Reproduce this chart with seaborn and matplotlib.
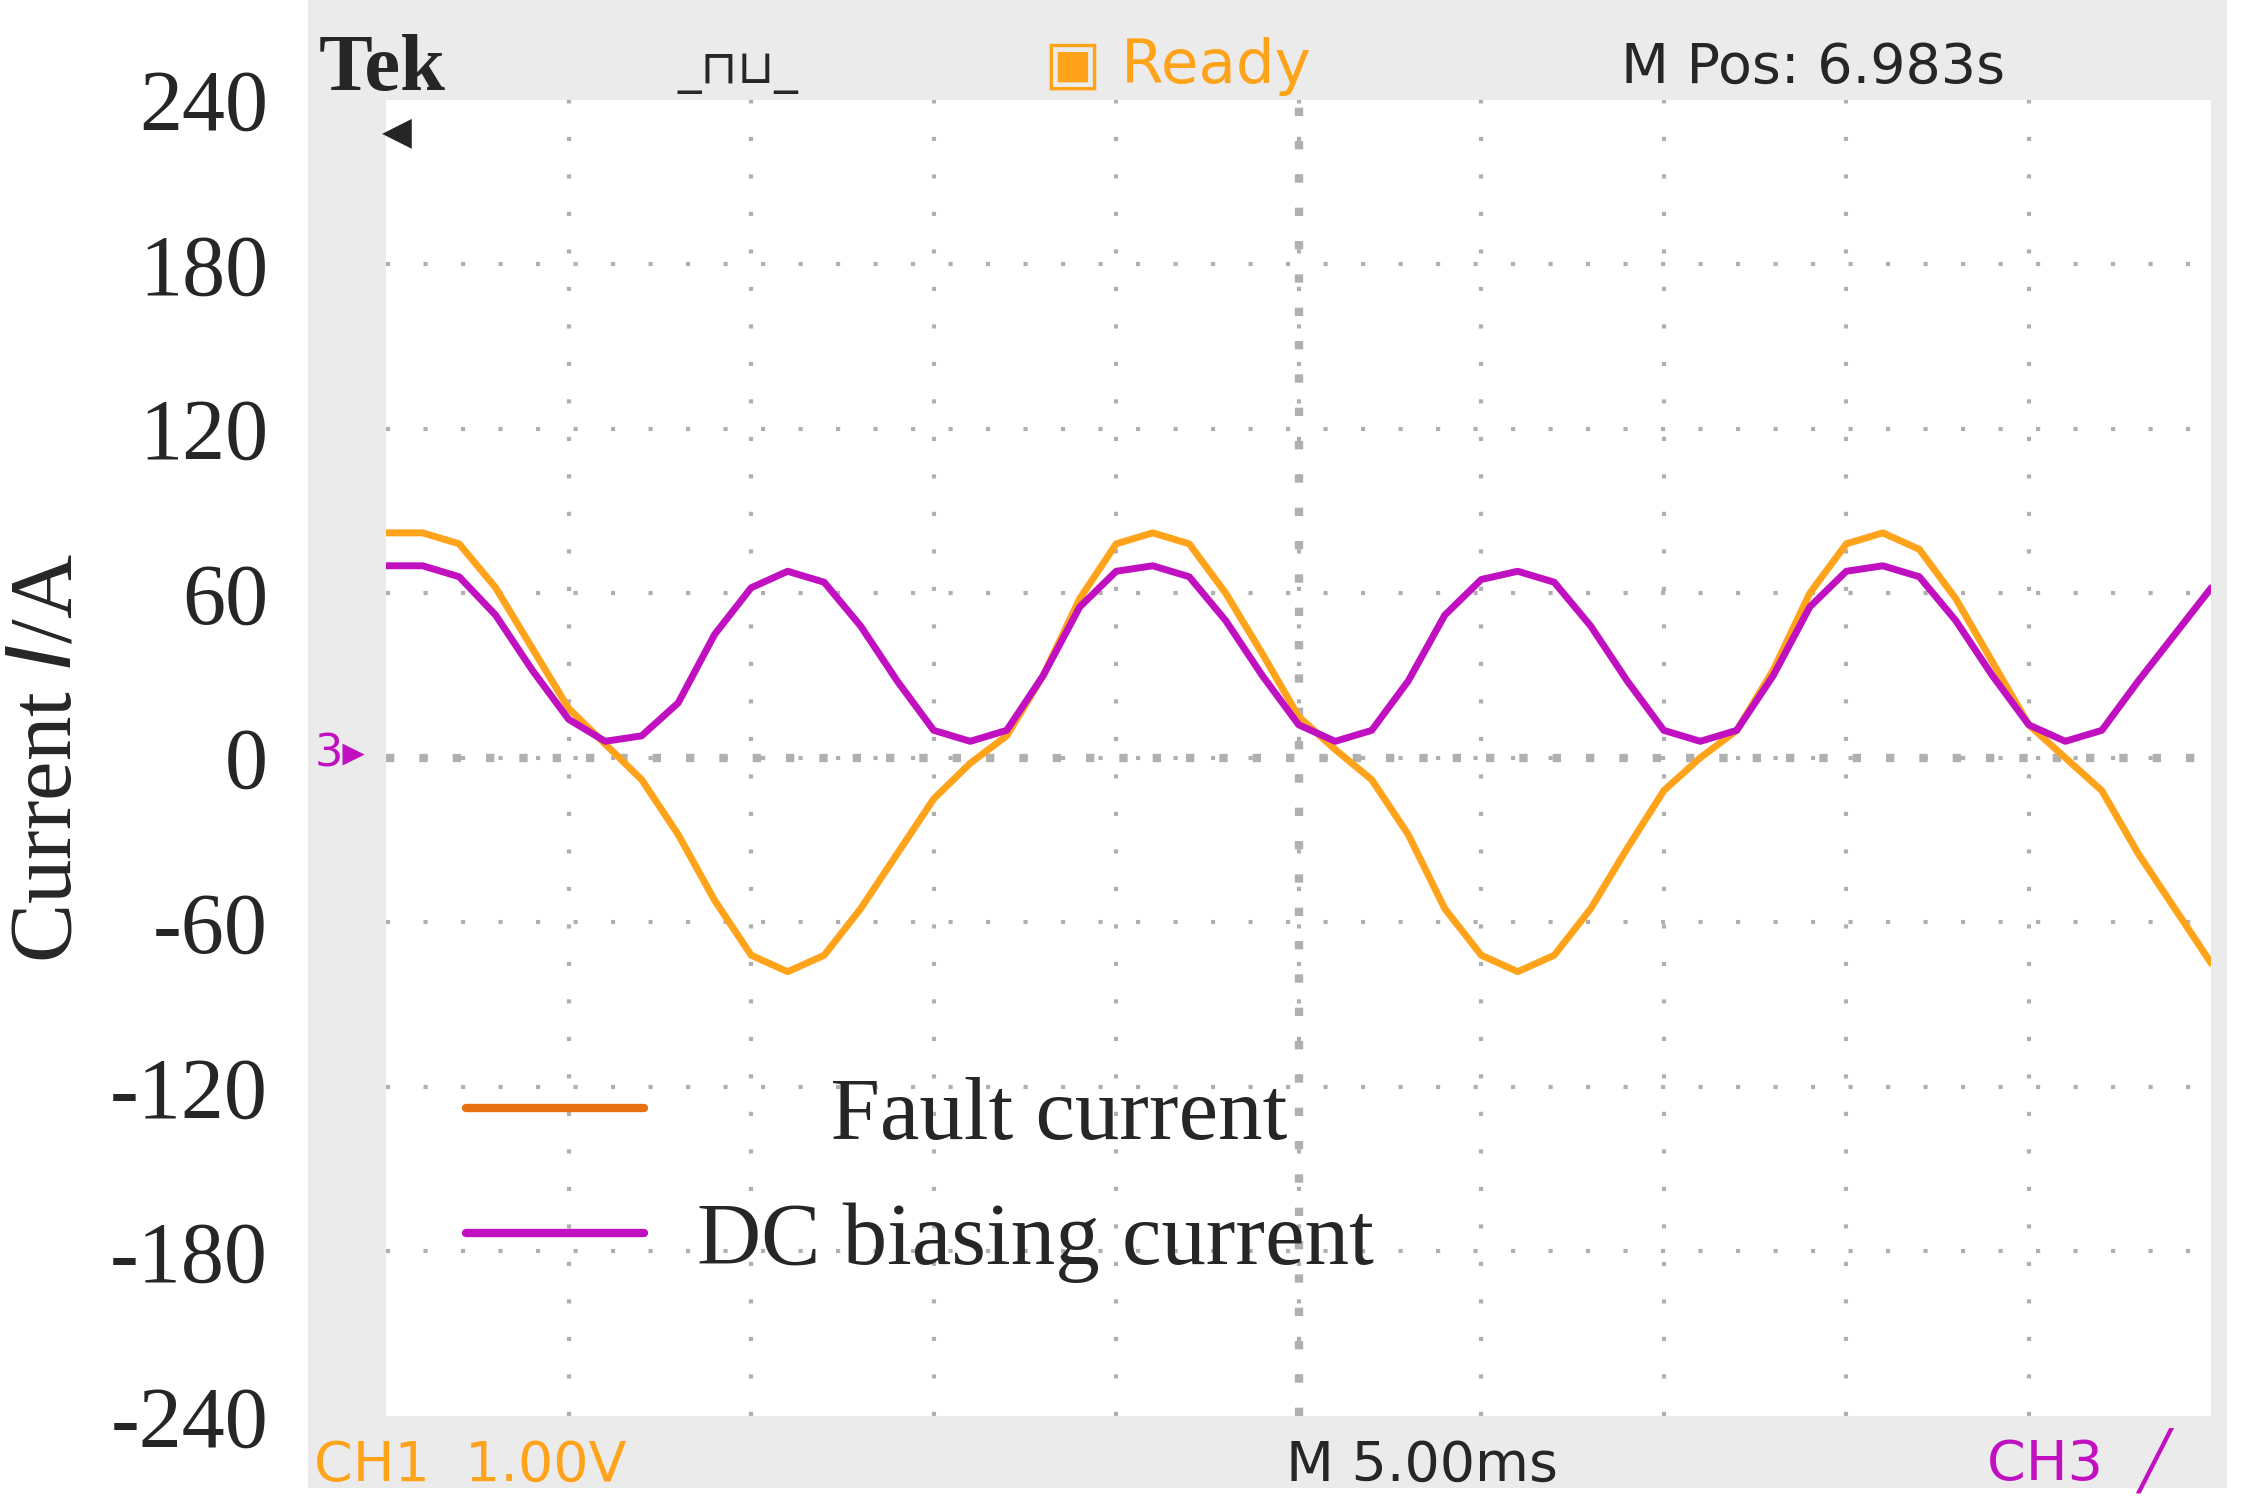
import numpy as np
import pandas as pd
import matplotlib.pyplot as plt
import seaborn as sns

sns.set_style("white")
plt.rcParams['font.family'] = ['Liberation Serif', 'DejaVu Serif']

# time in ms (10 divisions x 5 ms)
time_ms = list(range(0, 51))
fault_current = [82, 82, 78, 62, 40, 18, 5, -8, -28, -52, -72, -78, -72, -55, -35, -15, -2, 8, 30, 58,
                 78, 82, 78, 60, 38, 15, 3, -8, -28, -55, -72, -78, -72, -55, -33, -12, 0, 10, 32, 60,
                 78, 82, 76, 58, 35, 12, 0, -12, -35, -55, -75]
dc_bias_current = [70, 70, 66, 52, 32, 14, 6, 8, 20, 45, 62, 68, 64, 48, 28, 10, 6, 10, 30, 55,
                   68, 70, 66, 50, 30, 12, 6, 10, 28, 52, 65, 68, 64, 48, 28, 10, 6, 10, 30, 55,
                   68, 70, 66, 50, 30, 12, 6, 10, 28, 45, 62]
y_ticks = [-240, -180, -120, -60, 0, 60, 120, 180, 240]

df = pd.DataFrame({'t': time_ms, 'Fault current': fault_current, 'DC biasing current': dc_bias_current})

fig = plt.figure(figsize=(22.45, 15.08), dpi=100)
bg = fig.add_axes([0.137, 0.013, 0.855, 0.987], zorder=-5)
bg.set_facecolor('#ebebeb')
bg.set_xticks([]); bg.set_yticks([])
for s in bg.spines.values():
    s.set_visible(False)

ax = fig.add_axes([0.172, 0.061, 0.813, 0.873])
ax.set_facecolor('white')

sns.lineplot(data=df, x='t', y='Fault current', ax=ax, color='#ffa31a', lw=5, label='_f')
sns.lineplot(data=df, x='t', y='DC biasing current', ax=ax, color='#c010c0', lw=5, label='_d')

ax.set_xlim(0, 50)
ax.set_ylim(-240, 240)
ax.set_yticks(y_ticks)
ax.set_yticklabels([str(v) for v in y_ticks], fontsize=62)
ax.set_xticks([])
ax.tick_params(axis='y', length=0, pad=85)
for s in ax.spines.values():
    s.set_visible(False)

# scope graticule
for x in range(5, 50, 5):
    ax.axvline(x, color='#b0b0b0', ls=(0, (1, 8)), lw=3, zorder=0)
for y in range(-180, 240, 60):
    ax.axhline(y, color='#b0b0b0', ls=(0, (1, 8)), lw=3, zorder=0)
ax.axhline(0, color='#b0b0b0', ls=(0, (1, 3)), lw=6, zorder=0)
ax.axvline(25, color='#b0b0b0', ls=(0, (1, 3)), lw=6, zorder=0)

ax.set_ylabel('Current $I$/A', fontsize=64, labelpad=15)
ax.set_xlabel('')

# legend
ax.plot([], [], color='#e87010', lw=6, label='      Fault current')
ax.plot([], [], color='#c010c0', lw=6, label='DC biasing current')
ax.legend(loc='lower left', bbox_to_anchor=(0.0, 0.04), frameon=False, fontsize=64,
          handlelength=2.0, handletextpad=0.6, labelspacing=0.5)

# scope annotations
sans = ['DejaVu Sans']
fig.text(0.142, 0.94, 'Tek', fontsize=58, fontweight='bold', family=['Liberation Serif'])
fig.text(0.302, 0.945, '_⊓⊔_', fontsize=34, family=sans)
fig.text(0.465, 0.945, '▣ Ready', fontsize=44, color='#ffa31a', family=sans)
fig.text(0.722, 0.945, 'M Pos: 6.983s', fontsize=40, family=sans)
fig.text(0.14, 0.018, 'CH1  1.00V', fontsize=40, color='#ffa31a', family=sans)
fig.text(0.573, 0.018, 'M 5.00ms', fontsize=40, family=sans)
fig.text(0.885, 0.018, 'CH3  ╱', fontsize=40, color='#c010c0', family=sans)
fig.text(0.14, 0.492, '3▸', fontsize=32, color='#c010c0', family=sans)
fig.text(0.17, 0.905, '◀', fontsize=28, family=sans)

fig.savefig('out.png', dpi=100)
